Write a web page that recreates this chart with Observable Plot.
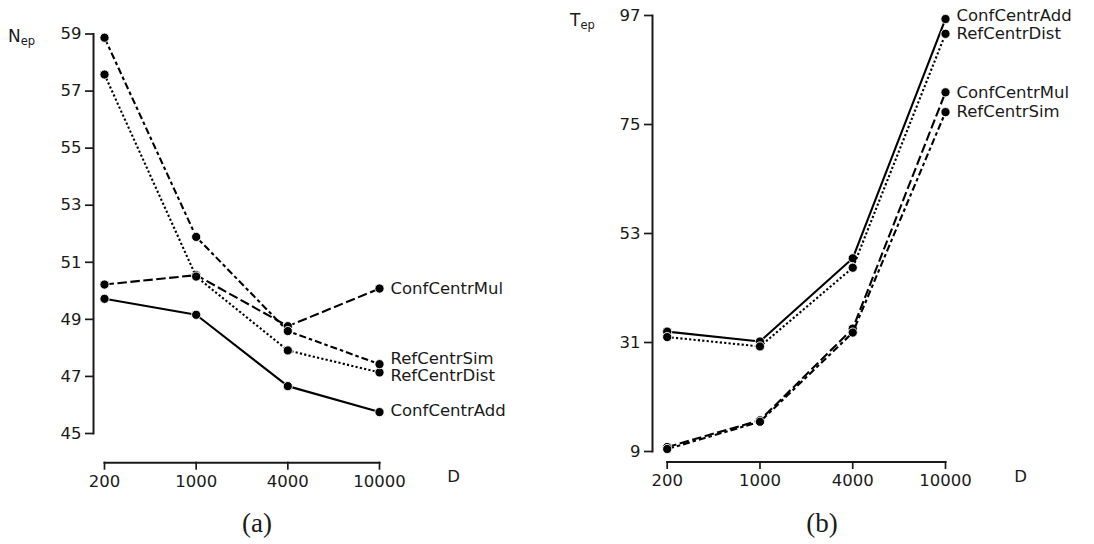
<!DOCTYPE html>
<html>
<head>
<meta charset="utf-8">
<script src="https://cdn.jsdelivr.net/npm/d3@7"></script>
<script src="https://cdn.jsdelivr.net/npm/@observablehq/plot@0.6"></script>
<style>
  body { margin: 0; background: #fff; }
  #root { position: relative; width: 1094px; height: 544px; background: #fff; overflow: hidden; }
  .panel { position: absolute; top: 0; width: 547px; height: 500px; }
  .panel svg { max-width: none !important; }
  .cap { position: absolute; font-family: "Liberation Serif", serif; font-size: 27px; color: #1a1a1a; transform: translate(-50%, -50%); line-height: 1; }
</style>
</head>
<body>
<div id="root">
  <div id="pa" class="panel" style="left:0px"></div>
  <div id="pb" class="panel" style="left:547px"></div>
  <svg width="1094" height="60" style="position:absolute;left:0;top:0;pointer-events:none" font-family="DejaVu Sans" fill="#1a1a1a">
    <text x="8" y="42" font-size="17">N<tspan font-size="11.5" dy="3">ep</tspan></text>
    <text x="570" y="26" font-size="17">T<tspan font-size="11.5" dy="3">ep</tspan></text>
  </svg>
  <div class="cap" style="left:257px;top:523px">(a)</div>
  <div class="cap" style="left:822px;top:523px">(b)</div>
</div>
<script>
// ---- data ----
const D = ["200", "1000", "4000", "10000"];
const seriesNames = ["ConfCentrAdd", "ConfCentrMul", "RefCentrDist", "RefCentrSim"];

// (a) N_ep
const nepConfCentrAdd = [49.72, 49.16, 46.66, 45.75];
const nepConfCentrMul = [50.22, 50.55, 48.76, 50.08];
const nepRefCentrDist = [57.58, 50.50, 47.91, 47.14];
const nepRefCentrSim  = [58.87, 51.89, 48.59, 47.43];
const nepTicks = [45, 47, 49, 51, 53, 55, 57, 59];

// (b) T_ep
const tepConfCentrAdd = [33.2, 31.2, 48.0, 96.3];
const tepConfCentrMul = [9.9, 15.3, 33.8, 81.5];
const tepRefCentrDist = [32.1, 30.2, 46.1, 93.3];
const tepRefCentrSim  = [9.5, 15.0, 33.0, 77.5];
const tepTicks = [9, 31, 53, 75, 97];

// ---- styles ----
const dashes = {
  ConfCentrAdd: null,
  ConfCentrMul: "9.5,3.5",
  RefCentrDist: "2.2,2.2",
  RefCentrSim: "7,3,3.5,3"
};
const ink = "#1a1a1a";

function rows(name, vals) {
  return D.map((d, i) => ({series: name, D: d, v: vals[i]}));
}

function panel(cfg) {
  const marks = [];
  marks.push(Plot.frame({anchor: "left", stroke: ink, strokeWidth: 2}));
  marks.push(Plot.axisY({ticks: cfg.yTicks, tickSize: 8, tickPadding: 4, strokeWidth: 1.7, stroke: ink, label: null, tickFormat: d => String(d)}));
  // bottom spine spanning the first to last category, offset below the plot area
  const spine = [D[0], D[D.length - 1]].map(d => ({D: d, v: cfg.yDomain[0]}));
  marks.push(Plot.line(spine, {x: "D", y: "v", dy: cfg.spineDy + 0.5, stroke: ink, strokeWidth: 2, strokeLinecap: "square"}));
  marks.push(Plot.axisX({tickSize: 8, tickPadding: 5, dy: cfg.spineDy, strokeWidth: 1.7, stroke: ink, label: null}));
  marks.push(Plot.text(["D"], {frameAnchor: "bottom-right", text: d => d, dy: cfg.dLabelDy, fill: ink, textAnchor: "middle", fontSize: 16.5}));
  for (const s of cfg.order) {
    const data = rows(s, cfg.values[s]);
    marks.push(Plot.line(data, {x: "D", y: "v", stroke: "black", strokeWidth: 2.1, strokeDasharray: dashes[s] || undefined, strokeLinecap: "butt"}));
    marks.push(Plot.dot(data, {x: "D", y: "v", r: 4.6, fill: "black", stroke: "white", strokeWidth: 0.9}));
  }
  for (const s of seriesNames) {
    const data = rows(s, cfg.values[s]).slice(-1);
    marks.push(Plot.text(data, {x: "D", y: "v", text: "series", textAnchor: "start", dx: 11, dy: cfg.nudge[s] || 0, fill: ink, fontSize: 16.5}));
  }
  return Plot.plot({
    width: 547,
    height: 500,
    marginLeft: cfg.marginLeft,
    marginTop: cfg.marginTop,
    marginBottom: cfg.marginBottom,
    marginRight: cfg.marginRight,
    style: {fontFamily: "DejaVu Sans", fontSize: "16.5px", color: ink, background: "transparent", overflow: "visible"},
    x: {type: "point", domain: D, range: cfg.xRange, padding: 0, round: false},
    y: {domain: cfg.yDomain, range: cfg.yRange},
    marks
  });
}

document.getElementById("pa").appendChild(panel({
  values: {ConfCentrAdd: nepConfCentrAdd, ConfCentrMul: nepConfCentrMul, RefCentrDist: nepRefCentrDist, RefCentrSim: nepRefCentrSim},
  order: ["ConfCentrAdd", "ConfCentrMul", "RefCentrDist", "RefCentrSim"],
  yDomain: [45, 59], yRange: [433, 33.5], yTicks: nepTicks,
  xRange: [104, 379],
  marginLeft: 93, marginTop: 33.5, marginBottom: 67, marginRight: 94,
  spineDy: 28.7, dLabelDy: 48,
  nudge: {RefCentrSim: -5.5, RefCentrDist: 3.5, ConfCentrAdd: -1}
}));

document.getElementById("pb").appendChild(panel({
  values: {ConfCentrAdd: tepConfCentrAdd, ConfCentrMul: tepConfCentrMul, RefCentrDist: tepRefCentrDist, RefCentrSim: tepRefCentrSim},
  order: ["ConfCentrAdd", "ConfCentrMul", "RefCentrDist", "RefCentrSim"],
  yDomain: [9, 97], yRange: [451, 15], yTicks: tepTicks,
  xRange: [119.7, 398],
  marginLeft: 105, marginTop: 15, marginBottom: 49, marginRight: 74,
  spineDy: 10, dLabelDy: 30,
  nudge: {ConfCentrAdd: -3}
}));
</script>
</body>
</html>
